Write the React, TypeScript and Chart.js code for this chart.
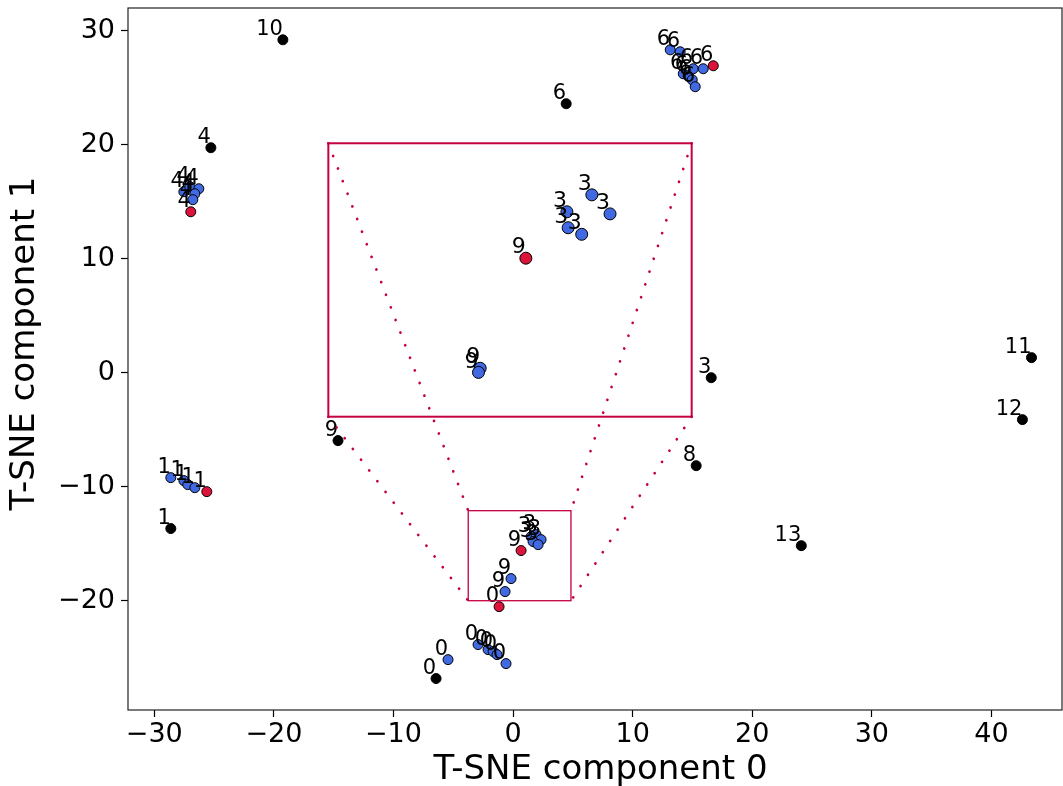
import React, { useEffect, useRef } from 'react';
import { Chart, registerables } from 'chart.js';

Chart.register(...registerables);

const FONT = "'DejaVu Sans', 'Liberation Sans', sans-serif";

// Axis ticks, limits and titles
const xTicks = [-30, -20, -10, 0, 10, 20, 30, 40];
const yTicks = [-20, -10, 0, 10, 20, 30];
const xLimits = [-32.2, 45.9];
const yLimits = [-29.6, 32.0];
const xTitle = 'T-SNE component 0';
const yTitle = 'T-SNE component 1';

// Zoomed region (data coords) and inset placement (fraction of plot area: left, right, top, bottom)
const zoomXLimits = [-3.75, 4.84];
const zoomYLimits = [-20.01, -12.11];
const insetFrac = [0.2145, 0.6035, 0.1927, 0.5822];

// Main plot: black points
const blackX = [-19.25, -25.27, 4.44, 16.57, 43.35, 42.59, -14.64, 15.31, 24.1, -28.62, -6.44];
const blackY = [29.21, 19.74, 23.6, -0.44, 1.32, -4.12, -5.96, -8.16, -15.18, -13.68, -26.84];
const blackLabels = ['10', '4', '6', '3', '11', '12', '9', '8', '13', '1', '0'];

// Main plot: blue points
const blueX = [
  -27.53, -27.03, -26.28, -26.61, -26.78,
  13.14, 13.97, 14.23, 14.64, 14.98, 15.23, 15.06, 15.9,
  -28.62, -27.53, -27.2, -26.61,
  1.51, 1.92, 2.34, 1.67, 2.09,
  -0.17, -0.67,
  -2.93, -2.09, -1.67, -1.34, -0.59, -5.44,
];
const blueY = [
  15.88, 16.32, 16.14, 15.7, 15.18,
  28.33, 28.16, 26.23, 26.05, 25.7, 25.09, 26.67, 26.67,
  -9.21, -9.47, -9.82, -10.09,
  -14.39, -14.21, -14.65, -14.82, -15.09,
  -18.07, -19.21,
  -23.86, -24.3, -24.47, -24.74, -25.53, -25.18,
];
const blueLabels = [
  '4', '4', '4', '4', '4',
  '6', '6', '6', '6', '6', '6', '6', '6',
  '1', '1', '1', '1',
  '3', '3', '3', '3', '3',
  '9', '9',
  '0', '0', '0', '0', '0', '0',
];

// Main plot: red points
const redX = [-26.95, 16.74, -25.61, 0.67, -1.17];
const redY = [14.12, 26.93, -10.44, -15.61, -20.53];
const redLabels = ['4', '6', '1', '9', '0'];

// Inset points
const insetBlueX = [2.48, 2.91, 1.89, 1.92, 2.24, -0.16, -0.2];
const insetBlueY = [-13.6, -14.15, -14.09, -14.55, -14.74, -18.61, -18.73];
const insetBlueLabels = ['3', '3', '3', '3', '3', '9', '9'];
const insetRedX = [0.92];
const insetRedY = [-15.43];
const insetRedLabels = ['9'];

const BLUE = '#4169E1';
const RED = '#DC143C';
const INSET_COLOR = '#C4003F';

const fmt = (v: number) => (v < 0 ? '\u2212' + Math.abs(v) : String(v));

const pts = (xs: number[], ys: number[]) => xs.map((x, i) => ({ x, y: ys[i] }));

const insetPlugin = {
  id: 'insetPlugin',
  afterLayout(chart: any) {
    const ca = chart.chartArea;
    const w = ca.right - ca.left;
    const h = ca.bottom - ca.top;
    const xi = chart.scales.xi;
    const yi = chart.scales.yi;
    const l = ca.left + insetFrac[0] * w;
    const r = ca.left + insetFrac[1] * w;
    const t = ca.top + insetFrac[2] * h;
    const b = ca.top + insetFrac[3] * h;
    xi.left = l; xi.right = r; xi.width = r - l; xi.top = t; xi.bottom = b; xi.height = b - t;
    yi.left = l; yi.right = r; yi.width = r - l; yi.top = t; yi.bottom = b; yi.height = b - t;
    xi.configure();
    yi.configure();
  },
  beforeDatasetsDraw(chart: any) {
    const ctx = chart.ctx;
    const xi = chart.scales.xi;
    const yi = chart.scales.yi;
    ctx.save();
    ctx.fillStyle = '#ffffff';
    ctx.fillRect(xi.left, yi.top, xi.right - xi.left, yi.bottom - yi.top);
    ctx.restore();
  },
  afterDatasetsDraw(chart: any) {
    const ctx = chart.ctx;
    const ca = chart.chartArea;
    ctx.save();
    // point labels
    chart.data.datasets.forEach((ds: any, i: number) => {
      const meta = chart.getDatasetMeta(i);
      ctx.font = `${ds.labelSize}px ${FONT}`;
      ctx.fillStyle = '#000';
      ctx.textAlign = 'right';
      ctx.textBaseline = 'alphabetic';
      meta.data.forEach((el: any, j: number) => {
        const txt = ds.labelsText[j];
        ctx.fillText(txt, el.x, el.y - ds.labelSize * 0.22);
      });
    });
    const xs = chart.scales.x;
    const ys = chart.scales.y;
    const xi = chart.scales.xi;
    const yi = chart.scales.yi;
    // zoom rectangle on main axes
    const zl = xs.getPixelForValue(zoomXLimits[0]);
    const zr = xs.getPixelForValue(zoomXLimits[1]);
    const zt = ys.getPixelForValue(zoomYLimits[1]);
    const zb = ys.getPixelForValue(zoomYLimits[0]);
    ctx.strokeStyle = INSET_COLOR;
    ctx.lineWidth = 1.3;
    ctx.strokeRect(zl, zt, zr - zl, zb - zt);
    // inset frame
    const il = xi.left, ir = xi.right, it = yi.top, ib = yi.bottom;
    ctx.lineWidth = 2;
    ctx.strokeRect(il, it, ir - il, ib - it);
    // connectors
    ctx.lineWidth = 2.7;
    ctx.lineCap = 'round';
    ctx.setLineDash([0.1, 13.4]);
    const pairs = [
      [il, it, zl, zt],
      [il, ib, zl, zb],
      [ir, it, zr, zt],
      [ir, ib, zr, zb],
    ];
    pairs.forEach(([x1, y1, x2, y2]) => {
      ctx.beginPath();
      ctx.moveTo(x1, y1);
      ctx.lineTo(x2, y2);
      ctx.stroke();
    });
    ctx.setLineDash([]);
    ctx.lineCap = 'butt';
    // axes frame
    ctx.strokeStyle = '#222';
    ctx.lineWidth = 1.2;
    ctx.strokeRect(ca.left, ca.top, ca.right - ca.left, ca.bottom - ca.top);
    ctx.restore();
  },
  afterDraw(chart: any) {
    const ctx = chart.ctx;
    const ca = chart.chartArea;
    ctx.save();
    ctx.font = `34px ${FONT}`;
    ctx.fillStyle = '#000';
    ctx.textAlign = 'center';
    ctx.textBaseline = 'middle';
    // x axis title
    ctx.fillText(xTitle, ca.left + (ca.right - ca.left) * 0.506, 770);
    // y axis title (placed as in the reference, slightly above the axis centre)
    ctx.translate(25, ca.top + (ca.bottom - ca.top) * 0.478);
    ctx.rotate(-Math.PI / 2);
    ctx.fillText(yTitle, 0, 0);
    ctx.restore();
  },
};

export default function App() {
  const ref = useRef<HTMLCanvasElement>(null);
  useEffect(() => {
    if (!ref.current) return;
    const common = { borderColor: '#000', borderWidth: 1, pointHoverBorderWidth: 1 };
    const chart = new Chart(ref.current, {
      type: 'scatter',
      data: {
        datasets: [
          { ...common, label: 'black', data: pts(blackX, blackY), backgroundColor: '#000', pointRadius: 5, pointHoverRadius: 5, xAxisID: 'x', yAxisID: 'y', order: 5, labelsText: blackLabels, labelSize: 21 } as any,
          { ...common, label: 'blue', data: pts(blueX, blueY), backgroundColor: BLUE, pointRadius: 5, pointHoverRadius: 5, xAxisID: 'x', yAxisID: 'y', order: 4, labelsText: blueLabels, labelSize: 21 } as any,
          { ...common, label: 'red', data: pts(redX, redY), backgroundColor: RED, pointRadius: 5, pointHoverRadius: 5, xAxisID: 'x', yAxisID: 'y', order: 3, labelsText: redLabels, labelSize: 21 } as any,
          { ...common, label: 'inset blue', data: pts(insetBlueX, insetBlueY), backgroundColor: BLUE, pointRadius: 6, pointHoverRadius: 6, xAxisID: 'xi', yAxisID: 'yi', order: 2, labelsText: insetBlueLabels, labelSize: 22 } as any,
          { ...common, label: 'inset red', data: pts(insetRedX, insetRedY), backgroundColor: RED, pointRadius: 6, pointHoverRadius: 6, xAxisID: 'xi', yAxisID: 'yi', order: 1, labelsText: insetRedLabels, labelSize: 22 } as any,
        ],
      },
      options: {
        animation: false,
        responsive: false,
        events: [],
        layout: { autoPadding: false, padding: { left: 0, right: 1, top: 8, bottom: 0 } },
        plugins: { legend: { display: false }, tooltip: { enabled: false } },
        scales: {
          x: {
            type: 'linear',
            position: 'bottom',
            min: xLimits[0],
            max: xLimits[1],
            afterBuildTicks: (s: any) => { s.ticks = xTicks.map((v) => ({ value: v })); },
            afterFit: (s: any) => { s.height = 76; s.paddingLeft = 0; s.paddingRight = 0; },
            ticks: { color: '#000', font: { family: FONT, size: 27, lineHeight: 1 }, padding: 4, maxRotation: 0, autoSkip: false, callback: (v: any) => fmt(Number(v)) },
            grid: { drawOnChartArea: false, drawTicks: true, tickLength: 7, color: '#000', tickWidth: 1.2 },
            border: { display: false },
            title: { display: false, text: xTitle },
          },
          y: {
            type: 'linear',
            position: 'left',
            min: yLimits[0],
            max: yLimits[1],
            afterBuildTicks: (s: any) => { s.ticks = yTicks.map((v) => ({ value: v })); },
            afterFit: (s: any) => { s.width = 128; s.paddingTop = 0; s.paddingBottom = 0; },
            ticks: { color: '#000', font: { family: FONT, size: 27, lineHeight: 1 }, padding: 6, autoSkip: false, callback: (v: any) => fmt(Number(v)) },
            grid: { drawOnChartArea: false, drawTicks: true, tickLength: 7, color: '#000', tickWidth: 1.2 },
            border: { display: false },
            title: { display: false, text: yTitle },
          },
          xi: { type: 'linear', axis: 'x', position: 'bottom', display: false, min: zoomXLimits[0], max: zoomXLimits[1] },
          yi: { type: 'linear', axis: 'y', position: 'left', display: false, min: zoomYLimits[0], max: zoomYLimits[1] },
        } as any,
      },
      plugins: [insetPlugin],
    });
    return () => chart.destroy();
  }, []);
  return (
    <div style={{ position: 'fixed', left: 0, top: 0, width: 1063, height: 786, background: '#fff' }}>
      <canvas ref={ref} width={1063} height={786} style={{ display: 'block', width: '1063px', height: '786px' }} />
    </div>
  );
}
